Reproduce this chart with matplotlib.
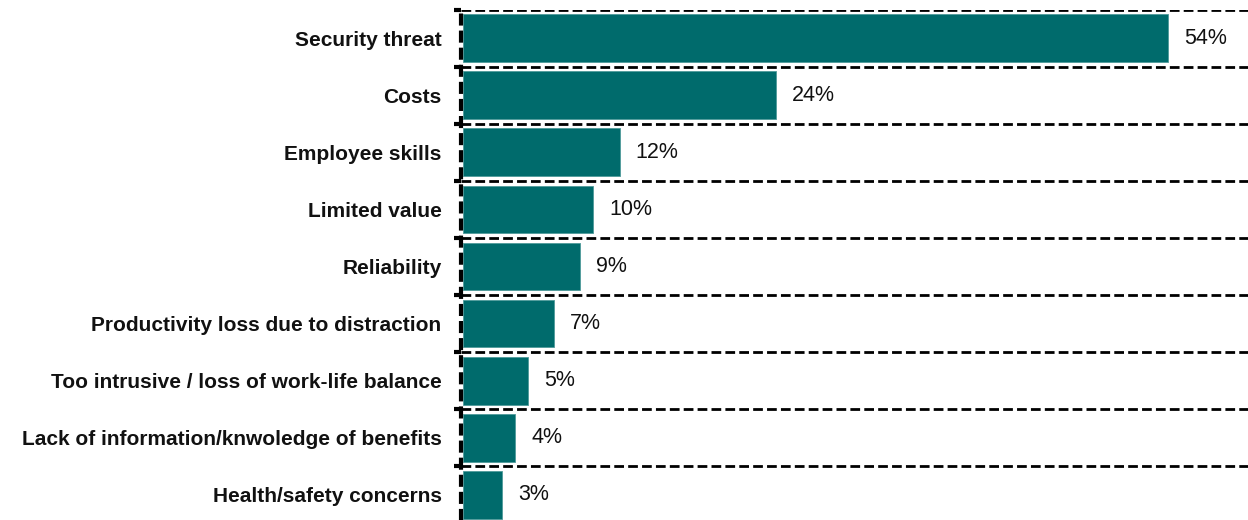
import numpy as np
import matplotlib.pyplot as plt

categories = [
    'Security threat',
    'Costs',
    'Employee skills',
    'Limited value',
    'Reliability',
    'Productivity loss due to distraction',
    'Too intrusive / loss of work-life balance',
    'Lack of information/knwoledge of benefits',
    'Health/safety concerns',
]
shares = [54, 24, 12, 10, 9, 7, 5, 4, 3]

BAR_COLOR = '#006B6C'


def plot_bars(labels, values):
    plt.rcParams['font.family'] = ['Liberation Sans', 'DejaVu Sans']
    fig = plt.figure(figsize=(12.48, 5.2), dpi=100)
    ax = fig.add_axes([0.3694, -0.006, 0.6306, 0.987])

    y = np.arange(len(labels))
    ax.barh(y, values, height=0.84, left=0.15, color=BAR_COLOR,
            edgecolor='#4f9a9a', linewidth=0.6, zorder=2)

    for yi, v in zip(y, values):
        ax.annotate('%d%%' % v, xy=(v + 0.15, yi), xytext=(11.5, 0), textcoords='offset points',
                    va='center', ha='left', fontsize=15.5, color='#111111')

    ax.set_xlim(0, 60.3)
    ax.set_ylim(len(labels) - 0.5, -0.5)

    # dashed separators between the rows
    bounds = np.arange(-0.5, len(labels) - 0.5, 1.0)
    for b in bounds:
        ax.axhline(b, color='black', lw=2, ls=(0, (3.5, 1.5)), zorder=1)

    # thick dashed line in place of the left spine
    ax.axvline(0, color='black', lw=3, ls=(0, (2.9, 1.2)), zorder=3, clip_on=False)
    for side in ['top', 'right', 'bottom', 'left']:
        ax.spines[side].set_visible(False)

    ax.set_yticks(bounds, minor=True)
    ax.set_yticks(y)
    ax.set_yticklabels(labels, fontsize=15, fontweight='bold', color='#111111')
    ax.tick_params(axis='y', which='major', length=0, pad=14)
    ax.tick_params(axis='y', which='minor', length=5, width=3, color='black')
    ax.set_xticks([])

    fig.savefig('out.png', dpi=100)


def main():
    plot_bars(categories, shares)


if __name__ == "__main__":
    main()
